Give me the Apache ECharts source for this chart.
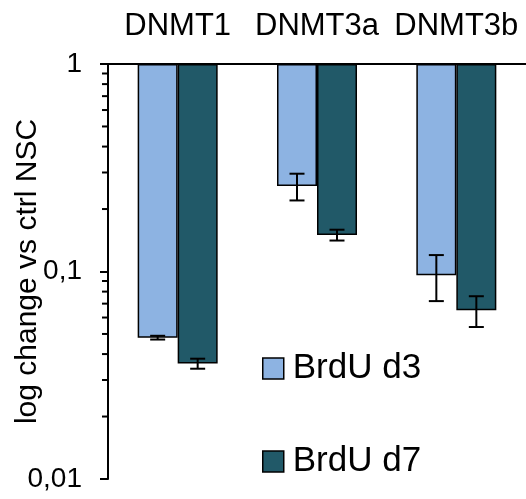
<!DOCTYPE html>
<html>
<head>
<meta charset="utf-8">
<script src="https://cdn.jsdelivr.net/npm/echarts@6/dist/echarts.min.js"></script>
<style>
  html, body { margin: 0; padding: 0; background: #fff; }
  #chart { width: 526px; height: 499px; }
</style>
</head>
<body>
<div id="chart"></div>
<script>
var categories = ['DNMT1', 'DNMT3a', 'DNMT3b']
var d3Values = [0.048, 0.258, 0.096]
var d3Err = [0.001, 0.038, 0.024]
var d7Values = [0.036, 0.150, 0.065]
var d7Err = [0.002, 0.009, 0.011]
var yTickValues = [0.01, 0.1, 1]
var yTickLabels = ['0,01', '0,1', '1']
var minorTickValues = [0.02, 0.03, 0.04, 0.05, 0.06, 0.07, 0.08, 0.09, 0.2, 0.3, 0.4, 0.5, 0.6, 0.7, 0.8, 0.9]

var FONT = 'Liberation Sans, Arial, sans-serif'
var BAR_W = 40

function errData(values, errs) {
  return values.map(function(v, i) { return [i, v - errs[i], v + errs[i]] })
}

function errRender(offset) {
  return function(params, api) {
    var i = api.value(0)
    var lo = api.coord([i, api.value(1)])
    var hi = api.coord([i, api.value(2)])
    var x = lo[0] + offset
    var st = { stroke: '#000', lineWidth: 2 }
    return {
      type: 'group',
      children: [
        { type: 'line', shape: { x1: x, y1: lo[1], x2: x, y2: hi[1] }, style: st },
        { type: 'line', shape: { x1: x - 7.5, y1: lo[1], x2: x + 7.5, y2: lo[1] }, style: st },
        { type: 'line', shape: { x1: x - 7.5, y1: hi[1], x2: x + 7.5, y2: hi[1] }, style: st }
      ]
    }
  }
}

var chart = echarts.init(document.getElementById('chart'), null, { renderer: 'canvas' })

var option = {
  animation: false,
  textStyle: { fontFamily: FONT, color: '#000' },
  grid: { left: 108, top: 64, right: 0, bottom: 20, containLabel: false, outerBoundsMode: 'none' },
  legend: {
    orient: 'vertical',
    left: 257,
    top: 346,
    itemWidth: 21,
    itemHeight: 21,
    itemGap: 58,
    icon: 'rect',
    data: [
      { name: 'BrdU d3', itemStyle: { color: '#8db3e2', borderColor: '#000', borderWidth: 1.5 } },
      { name: 'BrdU d7', itemStyle: { color: '#215968', borderColor: '#000', borderWidth: 1.5 } }
    ],
    textStyle: { fontFamily: FONT, fontSize: 35, color: '#000', padding: [0, 0, 0, 4] }
  },
  xAxis: {
    type: 'category',
    position: 'top',
    data: categories,
    axisLine: { lineStyle: { color: '#000', width: 2 } },
    axisTick: { inside: true, length: 9, lineStyle: { color: '#000', width: 2 } },
    axisLabel: { interval: 0, fontFamily: FONT, fontSize: 31, color: '#000', margin: 22, hideOverlap: false },
    splitLine: { show: false }
  },
  yAxis: {
    type: 'log',
    logBase: 10,
    min: 0.01,
    max: 1,
    name: 'log change vs ctrl NSC',
    nameLocation: 'middle',
    nameGap: 65,
    nameMoveOverlap: false,
    nameTextStyle: { fontFamily: FONT, fontSize: 30, color: '#000' },
    axisLine: { show: true, lineStyle: { color: '#000', width: 2 } },
    axisTick: { show: true, length: 8, lineStyle: { color: '#000', width: 2 } },
    axisLabel: {
      fontFamily: FONT,
      fontSize: 28,
      color: '#000',
      margin: 26,
      formatter: function(v) {
        for (var k = 0; k < yTickValues.length; k++) {
          if (Math.abs(v - yTickValues[k]) < yTickValues[k] * 1e-6) return yTickLabels[k]
        }
        return ''
      }
    },
    splitLine: { show: false }
  },
  series: [
    {
      name: 'BrdU d3',
      type: 'bar',
      data: d3Values,
      barWidth: BAR_W,
      barGap: '0%',
      itemStyle: { color: '#8db3e2', borderColor: '#000', borderWidth: 1.5 }
    },
    {
      name: 'BrdU d7',
      type: 'bar',
      data: d7Values,
      barWidth: BAR_W,
      barGap: '0%',
      itemStyle: { color: '#215968', borderColor: '#000', borderWidth: 1.5 }
    },
    {
      type: 'custom',
      name: 'err d3',
      data: errData(d3Values, d3Err),
      encode: { x: 0, y: [1, 2] },
      renderItem: errRender(-BAR_W / 2),
      z: 5
    },
    {
      type: 'custom',
      name: 'err d7',
      data: errData(d7Values, d7Err),
      encode: { x: 0, y: [1, 2] },
      renderItem: errRender(BAR_W / 2),
      z: 5
    },
    {
      type: 'custom',
      name: 'minor ticks',
      data: minorTickValues.map(function(v) { return [0, v] }),
      encode: { x: 0, y: 1 },
      renderItem: function(params, api) {
        var p = api.coord([0, api.value(1)])
        var band = api.size([1, 0])[0]
        var x0 = p[0] - band / 2
        return {
          type: 'line',
          shape: { x1: x0 - 6, y1: p[1], x2: x0, y2: p[1] },
          style: { stroke: '#000', lineWidth: 2 }
        }
      },
      z: 5
    }
  ]
}

chart.setOption(option)
</script>
</body>
</html>
